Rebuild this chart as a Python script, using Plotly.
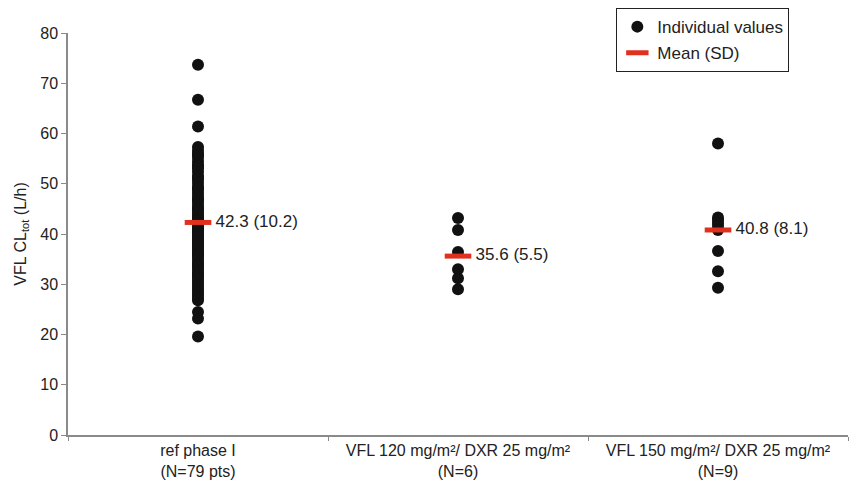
import plotly.graph_objects as go

categories = ["ref phase I<br>(N=79 pts)",
              "VFL 120 mg/m²/ DXR 25 mg/m²<br>(N=6)",
              "VFL 150 mg/m²/ DXR 25 mg/m²<br>(N=9)"]

ref_values = [73.7, 66.7, 61.4,
              57.3, 56.6, 56.0, 55.7, 55.2, 54.5, 53.8, 53.5, 53.1, 52.4, 51.6, 51.2,
              50.9, 50.2, 49.5, 49.0, 48.9, 48.2, 47.6, 47.0, 46.9, 46.4, 45.8, 45.3,
              45.0, 44.8, 44.3, 43.8, 43.4, 43.0, 43.0, 42.6, 42.2, 41.8, 41.4, 41.2,
              41.0, 40.6, 40.2, 39.8, 39.6, 39.4, 39.0, 38.6, 38.2, 38.0, 37.8, 37.4,
              37.0, 36.6, 36.2, 35.9, 35.7, 35.2, 34.7, 34.2, 33.9, 33.7, 33.2, 32.7,
              32.2, 31.9, 31.7, 31.2, 30.7, 30.2, 29.7, 29.2, 28.7, 28.2, 27.7, 27.2,
              26.8,
              24.5, 23.2, 19.6]
vfl120_values = [43.2, 40.8, 36.4, 33.0, 31.2, 29.0]
vfl150_values = [58.0, 43.3, 42.8, 42.2, 41.6, 40.8, 36.6, 32.6, 29.3]

means = [42.3, 35.6, 40.8]
sds = [10.2, 5.5, 8.1]

groups = [ref_values, vfl120_values, vfl150_values]
xs, ys = [], []
for cat, vals in zip(categories, groups):
    xs += [cat] * len(vals)
    ys += vals

mean_labels = [f" {m} ({s})" for m, s in zip(means, sds)]

font = "Liberation Sans, Arial, sans-serif"
txt = "#222222"
axc = "#8a8a8a"

fig = go.Figure()
fig.add_trace(go.Scatter(
    x=xs, y=ys, mode="markers", name="Individual values",
    legendgroup="a",
    marker=dict(color="#111111", size=12, symbol="circle"),
))
fig.add_trace(go.Scatter(
    x=categories, y=means, mode="markers+text", name="Mean (SD)",
    legendgroup="b",
    text=mean_labels, textposition="middle right",
    textfont=dict(family=font, size=17, color=txt),
    marker=dict(symbol="line-ew", size=19, line=dict(color="#e0301e", width=5),
                color="#e0301e"),
))

# page body has an 8px margin, so the figure is sized/offset to compensate
fig.update_layout(
    width=849, height=476,
    margin=dict(l=60, r=9, t=25, b=49, autoexpand=False),
    paper_bgcolor="white", plot_bgcolor="white",
    font=dict(family=font, size=16, color=txt),
    showlegend=True,
    legend=dict(
        x=0.703, y=1.062, xanchor="left", yanchor="top",
        bordercolor="#222222", borderwidth=1, bgcolor="white",
        font=dict(family=font, size=17, color=txt),
        tracegroupgap=1, traceorder="grouped",
        itemwidth=30,
    ),
    xaxis=dict(
        type="category", range=[-0.5, 2.5],
        categoryorder="array", categoryarray=categories,
        tickson="boundaries", ticks="outside", ticklen=4, tickcolor=axc,
        showline=True, linecolor=axc, linewidth=1.5,
        showgrid=False, zeroline=False,
        tickfont=dict(family=font, size=16, color=txt),
    ),
    yaxis=dict(
        range=[0, 80], dtick=10, ticks="outside", ticklen=5, tickcolor=axc,
        showline=True, linecolor=axc, linewidth=1.5,
        showgrid=False, zeroline=False,
        tickfont=dict(family=font, size=16, color=txt),
        title=dict(text="VFL CL<sub>tot</sub> (L/h)",
                   font=dict(family=font, size=16, color=txt), standoff=10),
    ),
)

fig.write_html("out.html")
